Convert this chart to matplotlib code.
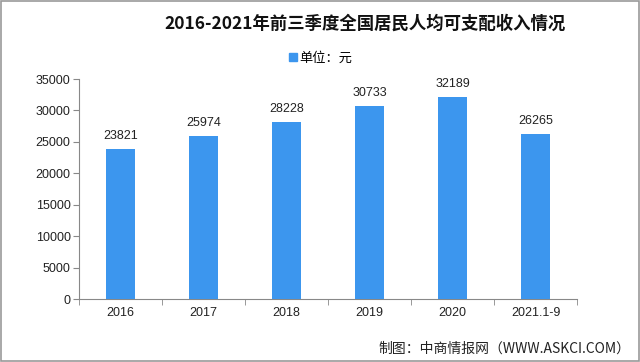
import matplotlib
matplotlib.use("Agg")
import matplotlib.pyplot as plt
import matplotlib.patches as mpatches

plt.rcParams["font.family"] = ["Noto Sans CJK SC", "DejaVu Sans"]

# ── data ────────────────────────────────────────────
categories = ["2016", "2017", "2018", "2019", "2020", "2021.1-9"]
income     = [23821, 25974, 28228, 30733, 32189, 26265]

BAR_COLOR = "#3C96EE"
NUM_FONT  = ["Liberation Sans", "DejaVu Sans"]

fig = plt.figure(figsize=(6.4, 3.62), dpi=100)
ax = fig.add_axes([79 / 640, 1 - 299 / 362, 498 / 640, 220 / 362])

x = range(len(categories))
ax.bar(x, income, width=0.36, color=BAR_COLOR, zorder=3)
for i, v in zip(x, income):
    ax.text(i, v + 1100, str(v), ha="center", va="bottom", fontsize=9,
            family=NUM_FONT, color="#222222")

ax.set_xlim(-0.5, len(categories) - 0.5)
ax.set_ylim(0, 35000)
ax.set_yticks(range(0, 35001, 5000))
ax.set_xticks(list(x))
ax.set_xticklabels(categories)
ax.set_xticks([i + 0.5 for i in range(-1, len(categories))], minor=True)
ax.tick_params(axis="x", which="major", length=0, pad=6, labelsize=9)
ax.tick_params(axis="x", which="minor", length=4, color="#888888")
ax.tick_params(axis="y", length=4, color="#888888", labelsize=9, pad=2)
for lab in ax.get_xticklabels() + ax.get_yticklabels():
    lab.set_family(NUM_FONT)
    lab.set_color("#222222")

for side in ["top", "right"]:
    ax.spines[side].set_visible(False)
for side in ["left", "bottom"]:
    ax.spines[side].set_color("#888888")
    ax.spines[side].set_linewidth(0.8)

# title, legend, source
fig.text(365 / 640, 1 - 24 / 362, "2016-2021年前三季度全国居民人均可支配收入情况",
         ha="center", va="center", fontsize=12.5, fontweight="bold", color="#111111")
patch = mpatches.Patch(color=BAR_COLOR, label="单位：元")
fig.legend(handles=[patch], loc="center", bbox_to_anchor=(321 / 640, 1 - 58 / 362),
           frameon=False, fontsize=9.5, handlelength=0.6, handleheight=0.6,
           handletextpad=0.2)
fig.text(630 / 640, 1 - 349 / 362, "制图：中商情报网（WWW.ASKCI.COM）",
         ha="right", va="center", fontsize=10, color="#222222")

# outer frame
fig.patches.append(mpatches.Rectangle((0.002, 0.003), 0.996, 0.994,
                                      transform=fig.transFigure, fill=False,
                                      edgecolor="#999999", linewidth=1.2))

fig.savefig("out.png", dpi=100)
